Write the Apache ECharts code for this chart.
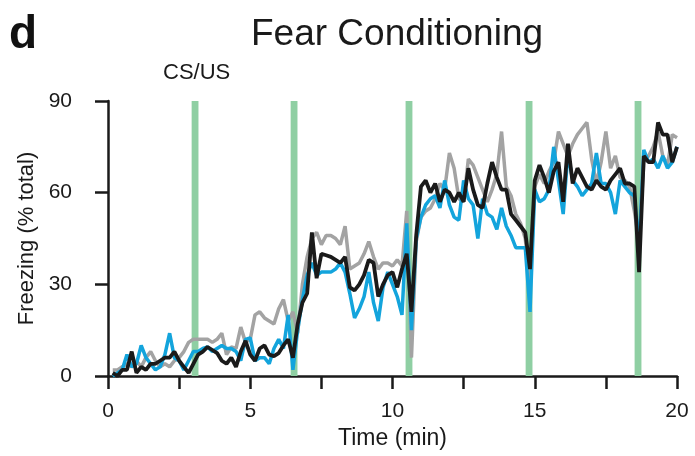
<!DOCTYPE html>
<html>
<head>
<meta charset="utf-8">
<script src="https://cdn.jsdelivr.net/npm/echarts@6/dist/echarts.min.js"></script>
<style>
  html, body { margin: 0; padding: 0; background: #ffffff; }
  #chart { width: 695px; height: 456px; }
</style>
</head>
<body>
<div id="chart"></div>
<script>
  // 10 s bins, one value per bin (t = 1/6 ... 20 min)
  const binMinutes = 1 / 6

  const grayValues = [
    2, 2, 3, 4, 3, 5,
    3, 6, 8, 5, 3, 4,
    3, 5, 6, 8, 11, 12,
    12, 12, 12, 11, 12, 14,
    7, 9.5, 9, 16, 11, 12,
    20, 21, 19, 18, 17, 22,
    25, 18, 21, 14, 30, 39,
    45, 47, 43, 46, 46, 45,
    43, 49, 35, 36, 37, 40,
    44, 39, 35, 37, 37, 36,
    38, 36, 54, 6, 44, 52,
    54, 55, 58, 63, 61, 73,
    68, 58, 57, 71, 69, 65,
    61, 57, 61, 66, 80, 62,
    59, 53, 50, 45, 30, 62,
    66, 63, 67, 70, 80, 76,
    72, 76, 79, 81, 83, 71,
    63, 70, 80, 68, 72, 65,
    64, 62, 54, 44, 70, 72,
    75, 80, 72, 69, 79, 78
  ]

  const blueValues = [
    0, 1, 2, 7, 3, 4,
    10, 6, 4, 2, 3, 7,
    14, 6, 5, 2, 5, 8,
    8, 9, 9.5, 8, 9, 10,
    9, 9, 8, 5, 12, 12.5,
    5, 6, 6, 4, 9, 12,
    9, 20, 2, 15, 25, 33,
    37, 33, 34, 34, 34, 35,
    37, 34, 27, 19, 22, 26,
    34, 24, 18, 29, 34, 30,
    26, 20, 50, 15, 45, 52,
    56, 58, 59, 55, 64, 56,
    52, 51, 64, 58, 56, 45,
    58, 53, 52, 48, 55, 49,
    46, 42, 42, 42, 21, 61,
    57, 58, 61, 75, 64, 53,
    73, 64, 62, 59, 61, 63,
    73, 63, 63, 60, 53, 64,
    62, 60, 59, 42, 74, 70,
    71, 68, 72, 68, 70, 75
  ]

  const blackValues = [
    1, 0, 2, 2, 8, 1,
    3, 2, 4, 4, 5, 6,
    6, 8, 5, 3, 1, 4,
    7, 8, 9.5, 8.5, 7.5, 5,
    4, 6, 3, 8, 11.5, 7,
    5, 9, 10, 7, 6.5, 7.5,
    10, 12, 6, 17, 24, 27,
    47, 32, 40, 39.5, 39, 38,
    37, 39, 29, 28, 30, 33,
    38, 37, 26, 30, 33, 34,
    29, 35, 40, 21, 46, 62,
    64, 60, 63, 57, 61, 60,
    57, 60, 57, 68, 61, 56,
    55, 63, 70, 65, 61, 61,
    53, 51, 49, 47, 35, 64,
    69, 65, 60, 67, 70, 57,
    76, 63, 68, 65, 62, 61,
    64, 62, 61, 64, 66, 68,
    63, 63, 62, 34, 72, 70,
    70, 83, 79, 79, 70, 75
  ]

  // CS/US presentations (min)
  const csTimes = [3.06, 6.54, 10.58, 14.8, 18.63]
  const csWidth = 0.24

  const yTicks = [0, 30, 60, 90]
  const xLabelTicks = [0, 5, 10, 15, 20]

  function toPairs(values) {
    return values.map((v, i) => [(i + 1) * binMinutes, v])
  }

  const chart = echarts.init(document.getElementById('chart'), null, { renderer: 'canvas' })

  const font = 'Liberation Sans, Arial, Helvetica, sans-serif'
  const axisColor = '#1a1a1a'

  chart.setOption({
    animation: false,
    backgroundColor: '#ffffff',
    title: [
      {
        text: 'd',
        left: 4,
        top: 7,
        textStyle: { fontFamily: font, fontSize: 46, fontWeight: 'bold', color: '#111' }
      },
      {
        text: 'Fear Conditioning',
        left: 246,
        top: 11,
        textStyle: { fontFamily: font, fontSize: 37, fontWeight: 'normal', color: '#1a1a1a' }
      },
      {
        text: 'CS/US',
        left: 158,
        top: 57,
        textStyle: { fontFamily: font, fontSize: 22, fontWeight: 'normal', color: '#1a1a1a' }
      }
    ],
    grid: {
      left: 108,
      right: 18,
      top: 101,
      bottom: 80
    },
    xAxis: {
      type: 'value',
      min: 0,
      max: 20,
      interval: 2.5,
      offset: 7,
      name: 'Time (min)',
      nameLocation: 'middle',
      nameGap: 39,
      nameTextStyle: { fontFamily: font, fontSize: 23, color: '#1a1a1a' },
      axisLine: { show: true, lineStyle: { color: axisColor, width: 2.5 } },
      axisTick: { show: true, length: 13, lineStyle: { color: axisColor, width: 2.5 } },
      axisLabel: {
        fontFamily: font,
        fontSize: 21,
        color: '#1a1a1a',
        margin: 18,
        formatter: (v) => (xLabelTicks.indexOf(v) >= 0 ? String(v) : '')
      },
      splitLine: { show: false }
    },
    yAxis: {
      type: 'value',
      min: yTicks[0],
      max: yTicks[yTicks.length - 1],
      interval: 30,
      offset: 9,
      name: 'Freezing (% total)',
      nameLocation: 'middle',
      nameGap: 60,
      nameTextStyle: { fontFamily: font, fontSize: 22, color: '#1a1a1a' },
      axisLine: { show: true, lineStyle: { color: axisColor, width: 2.5 } },
      axisTick: { show: true, length: 13, lineStyle: { color: axisColor, width: 2.5 } },
      axisLabel: { fontFamily: font, fontSize: 21, color: '#1a1a1a', margin: 27 },
      splitLine: { show: false }
    },
    series: [
      {
        name: 'gray',
        type: 'line',
        data: toPairs(grayValues),
        showSymbol: false,
        lineStyle: { color: '#a3a3a3', width: 3.5 },
        z: 2,
        markArea: {
          silent: true,
          itemStyle: { color: '#8fcfa3' },
          data: csTimes.map((t) => [{ xAxis: t - csWidth / 2 }, { xAxis: t + csWidth / 2 }])
        }
      },
      {
        name: 'blue',
        type: 'line',
        data: toPairs(blueValues),
        showSymbol: false,
        lineStyle: { color: '#13a4dc', width: 3.5 },
        z: 3
      },
      {
        name: 'black',
        type: 'line',
        data: toPairs(blackValues),
        showSymbol: false,
        lineStyle: { color: '#1a1a1a', width: 3.8 },
        z: 4
      }
    ]
  })
</script>
</body>
</html>
